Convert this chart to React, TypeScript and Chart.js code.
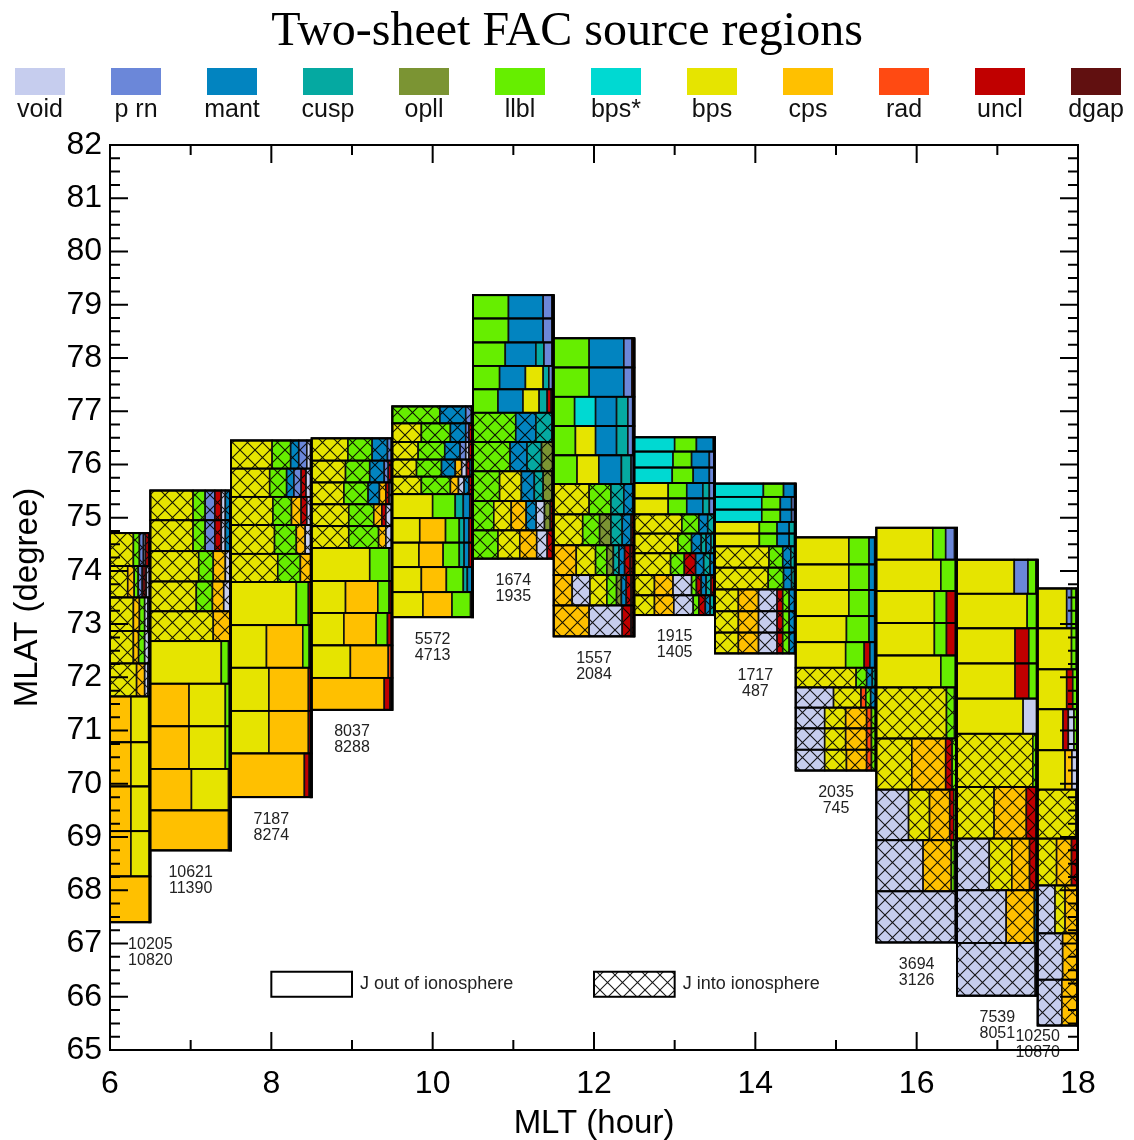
import React, { useEffect, useRef } from 'react';
import { Chart, registerables } from 'chart.js';

Chart.register(...registerables);

// ---- categories (source regions) ----
const categoryNames = ['void', 'p rn', 'mant', 'cusp', 'opll', 'llbl', 'bps*', 'bps', 'cps', 'rad', 'uncl', 'dgap'];
const categoryCodes = ['V', 'P', 'M', 'C', 'O', 'L', 'S', 'B', 'Q', 'R', 'U', 'D'];
const categoryColors = ['#c6cdee', '#6b87d9', '#0284c0', '#05a9a1', '#7b9433', '#66ee00', '#00d9d2', '#e6e400', '#ffc000', '#ff4a12', '#c00000', '#611010'];

// ---- MLT bins and event counts ----
const mltBins = [6, 7, 8, 9, 10, 11, 12, 13, 14, 15, 16, 17, 18];
const countsOut = [10205, 10621, 7187, 8037, 5572, 1674, 1557, 1915, 1717, 2035, 3694, 7539, 10250];
const countsInto = [10820, 11390, 8274, 8288, 4713, 1935, 2084, 1405, 487, 745, 3126, 8051, 10870];

// ---- axis ranges ----
const mltRange = [6, 18];
const mlatRange = [65, 82];

// row: [MLAT low, MLAT high, J into ionosphere (1) / out (0), mix of source regions in %]
type Row = [number, number, number, [string, number][]];

const mlt06: Row[] = [
  [74.09, 74.71, 1, [['B', 58], ['L', 15], ['P', 10], ['V', 5], ['U', 8], ['D', 4]]],
  [73.50, 74.09, 1, [['B', 44], ['Q', 16], ['L', 10], ['P', 10], ['D', 10], ['V', 10]]],
  [72.87, 73.50, 1, [['B', 58], ['Q', 15], ['L', 13], ['V', 8], ['P', 6]]],
  [72.26, 72.87, 1, [['B', 58], ['Q', 13], ['L', 15], ['V', 10], ['P', 4]]],
  [71.64, 72.26, 1, [['B', 66], ['Q', 20], ['V', 8], ['P', 6]]],
  [70.78, 71.64, 0, [['Q', 52], ['B', 44], ['L', 4]]],
  [69.95, 70.78, 0, [['Q', 52], ['B', 45], ['L', 3]]],
  [69.11, 69.95, 0, [['Q', 52], ['B', 46], ['L', 2]]],
  [68.26, 69.11, 0, [['Q', 52], ['B', 46], ['L', 2]]],
  [67.40, 68.26, 0, [['Q', 100]]],
];
const mlt07: Row[] = [
  [74.95, 75.51, 1, [['B', 53], ['L', 15], ['P', 12], ['U', 8], ['V', 5], ['M', 7]]],
  [74.37, 74.95, 1, [['B', 53], ['L', 15], ['P', 12], ['U', 8], ['V', 5], ['M', 7]]],
  [73.80, 74.37, 1, [['B', 60], ['L', 18], ['Q', 15], ['V', 7]]],
  [73.24, 73.80, 1, [['B', 57], ['L', 20], ['Q', 14], ['V', 9]]],
  [72.68, 73.24, 1, [['B', 78], ['Q', 22]]],
  [71.88, 72.68, 0, [['B', 88], ['L', 9], ['V', 3]]],
  [71.08, 71.88, 0, [['Q', 48], ['B', 45], ['L', 5], ['V', 2]]],
  [70.28, 71.08, 0, [['Q', 48], ['B', 45], ['L', 5], ['V', 2]]],
  [69.50, 70.28, 0, [['Q', 51], ['B', 46], ['L', 3]]],
  [68.75, 69.50, 0, [['Q', 97], ['U', 3]]],
];
const mlt08: Row[] = [
  [75.92, 76.45, 1, [['B', 51], ['L', 23], ['M', 10], ['P', 10], ['V', 6]]],
  [75.39, 75.92, 1, [['B', 48], ['L', 21], ['M', 9], ['P', 9], ['U', 6], ['V', 7]]],
  [74.86, 75.39, 1, [['B', 52], ['L', 23], ['Q', 12], ['U', 7], ['V', 6]]],
  [74.32, 74.86, 1, [['B', 54], ['L', 27], ['Q', 11], ['V', 8]]],
  [73.79, 74.32, 1, [['B', 58], ['L', 28], ['Q', 14]]],
  [72.98, 73.79, 0, [['B', 81], ['L', 15], ['U', 4]]],
  [72.18, 72.98, 0, [['B', 44], ['Q', 45], ['L', 8], ['U', 3]]],
  [71.37, 72.18, 0, [['B', 47], ['Q', 49], ['U', 4]]],
  [70.57, 71.37, 0, [['B', 47], ['Q', 49], ['U', 4]]],
  [69.75, 70.57, 0, [['Q', 91], ['U', 6], ['D', 3]]],
];
const mlt09: Row[] = [
  [76.07, 76.49, 1, [['B', 45], ['L', 30], ['M', 19], ['P', 6]]],
  [75.66, 76.07, 1, [['B', 42], ['L', 30], ['M', 18], ['P', 5], ['U', 5]]],
  [75.25, 75.66, 1, [['B', 40], ['L', 30], ['M', 14], ['Q', 8], ['U', 4], ['V', 4]]],
  [74.84, 75.25, 1, [['B', 46], ['L', 31], ['Q', 10], ['U', 5], ['V', 8]]],
  [74.43, 74.84, 1, [['B', 46], ['L', 37], ['Q', 9], ['V', 8]]],
  [73.81, 74.43, 0, [['B', 72], ['L', 24], ['V', 4]]],
  [73.21, 73.81, 0, [['B', 42], ['Q', 40], ['L', 14], ['U', 4]]],
  [72.60, 73.21, 0, [['B', 40], ['Q', 40], ['L', 14], ['U', 6]]],
  [71.99, 72.60, 0, [['B', 48], ['Q', 47], ['R', 5]]],
  [71.39, 71.99, 0, [['Q', 90], ['U', 7], ['D', 3]]],
];
const mlt10: Row[] = [
  [76.77, 77.09, 1, [['L', 59], ['M', 32], ['P', 7], ['V', 2]]],
  [76.42, 76.77, 1, [['B', 36], ['L', 36], ['M', 19], ['P', 4], ['U', 5]]],
  [76.09, 76.42, 1, [['B', 32], ['L', 33], ['M', 19], ['P', 7], ['V', 4], ['U', 5]]],
  [75.77, 76.09, 1, [['B', 30], ['L', 31], ['M', 17], ['Q', 8], ['V', 6], ['U', 4], ['M', 4]]],
  [75.44, 75.77, 1, [['B', 36], ['L', 36], ['Q', 10], ['V', 7], ['M', 6], ['U', 5]]],
  [74.99, 75.44, 0, [['B', 50], ['L', 28], ['C', 10], ['M', 8], ['U', 4]]],
  [74.53, 74.99, 0, [['B', 34], ['Q', 32], ['L', 17], ['C', 6], ['M', 6], ['U', 5]]],
  [74.07, 74.53, 0, [['B', 33], ['Q', 30], ['L', 20], ['C', 6], ['M', 6], ['U', 5]]],
  [73.60, 74.07, 0, [['B', 36], ['Q', 31], ['L', 21], ['C', 5], ['M', 7]]],
  [73.13, 73.60, 0, [['B', 38], ['Q', 36], ['L', 23], ['U', 3]]],
];
const mlt11: Row[] = [
  [78.74, 79.18, 0, [['L', 44], ['M', 43], ['P', 11], ['V', 2]]],
  [78.29, 78.74, 0, [['L', 44], ['M', 43], ['P', 11], ['V', 2]]],
  [77.85, 78.29, 0, [['L', 40], ['M', 38], ['C', 10], ['P', 10], ['U', 2]]],
  [77.41, 77.85, 0, [['L', 33], ['M', 32], ['B', 22], ['C', 7], ['P', 6]]],
  [76.97, 77.41, 0, [['L', 31], ['M', 31], ['B', 20], ['C', 10], ['U', 5], ['P', 3]]],
  [76.42, 76.97, 1, [['L', 53], ['M', 25], ['C', 20], ['P', 2]]],
  [75.87, 76.42, 1, [['L', 46], ['M', 21], ['C', 18], ['O', 14], ['U', 1]]],
  [75.31, 75.87, 1, [['L', 33], ['B', 27], ['M', 16], ['C', 11], ['O', 11], ['U', 2]]],
  [74.76, 75.31, 1, [['L', 25], ['B', 21], ['Q', 18], ['M', 12], ['V', 10], ['O', 7], ['U', 4]]],
  [74.23, 74.76, 1, [['L', 31], ['B', 27], ['Q', 21], ['V', 13], ['U', 8]]],
];
const mlt12: Row[] = [
  [77.82, 78.37, 0, [['L', 44], ['M', 43], ['P', 10], ['U', 3]]],
  [77.27, 77.82, 0, [['L', 44], ['M', 43], ['P', 10], ['U', 3]]],
  [76.72, 77.27, 0, [['L', 26], ['S', 26], ['M', 26], ['C', 14], ['P', 6], ['U', 2]]],
  [76.17, 76.72, 0, [['L', 27], ['B', 25], ['M', 26], ['C', 14], ['P', 6], ['U', 2]]],
  [75.63, 76.17, 0, [['L', 29], ['B', 27], ['M', 28], ['C', 12], ['P', 4]]],
  [75.06, 75.63, 1, [['B', 44], ['L', 27], ['C', 16], ['M', 11], ['U', 2]]],
  [74.48, 75.06, 1, [['B', 36], ['L', 21], ['O', 14], ['C', 14], ['M', 11], ['U', 4]]],
  [73.92, 74.48, 1, [['Q', 28], ['B', 24], ['L', 14], ['O', 8], ['C', 7], ['M', 7], ['U', 7], ['D', 5]]],
  [73.35, 73.92, 1, [['Q', 23], ['V', 22], ['B', 21], ['L', 12], ['O', 6], ['M', 6], ['U', 6], ['D', 4]]],
  [72.77, 73.35, 1, [['Q', 44], ['V', 41], ['U', 11], ['D', 4]]],
];
const mlt13: Row[] = [
  [76.24, 76.51, 0, [['S', 50], ['L', 27], ['M', 21], ['P', 2]]],
  [75.94, 76.24, 0, [['S', 48], ['L', 23], ['M', 22], ['P', 7]]],
  [75.65, 75.94, 0, [['S', 47], ['L', 26], ['M', 20], ['P', 7]]],
  [75.36, 75.65, 0, [['B', 42], ['L', 23], ['M', 20], ['C', 8], ['P', 7]]],
  [75.06, 75.36, 0, [['B', 42], ['L', 23], ['M', 20], ['C', 8], ['P', 7]]],
  [74.70, 75.06, 1, [['B', 59], ['L', 21], ['M', 11], ['C', 9]]],
  [74.33, 74.70, 1, [['B', 54], ['L', 17], ['M', 12], ['C', 6], ['M', 6], ['C', 5]]],
  [73.92, 74.33, 1, [['B', 45], ['L', 17], ['U', 14], ['M', 10], ['C', 8], ['M', 6]]],
  [73.54, 73.92, 1, [['B', 25], ['Q', 23], ['V', 23], ['L', 6], ['U', 6], ['M', 6], ['C', 6], ['U', 5]]],
  [73.17, 73.54, 1, [['B', 25], ['Q', 24], ['V', 24], ['L', 7], ['U', 8], ['M', 6], ['C', 6]]],
];
const mlt14: Row[] = [
  [75.39, 75.64, 0, [['S', 60], ['L', 25], ['M', 14], ['P', 1]]],
  [75.15, 75.39, 0, [['S', 58], ['L', 23], ['M', 14], ['P', 5]]],
  [74.92, 75.15, 0, [['S', 58], ['L', 23], ['M', 14], ['P', 5]]],
  [74.70, 74.92, 0, [['B', 55], ['L', 22], ['M', 15], ['C', 8]]],
  [74.46, 74.70, 0, [['B', 55], ['L', 22], ['M', 15], ['C', 8]]],
  [74.06, 74.46, 1, [['B', 67], ['L', 17], ['M', 10], ['C', 6]]],
  [73.65, 74.06, 1, [['B', 66], ['L', 19], ['M', 10], ['C', 5]]],
  [73.24, 73.65, 1, [['B', 29], ['Q', 25], ['V', 23], ['U', 7], ['L', 8], ['M', 8]]],
  [72.84, 73.24, 1, [['B', 29], ['Q', 25], ['V', 23], ['U', 7], ['L', 8], ['M', 8]]],
  [72.45, 72.84, 1, [['B', 29], ['Q', 25], ['V', 23], ['U', 7], ['L', 8], ['M', 8]]],
];
const mlt15: Row[] = [
  [74.12, 74.63, 0, [['B', 66], ['L', 25], ['M', 7], ['P', 2]]],
  [73.64, 74.12, 0, [['B', 66], ['L', 25], ['M', 7], ['P', 2]]],
  [73.15, 73.64, 0, [['B', 66], ['L', 25], ['M', 7], ['P', 2]]],
  [72.66, 73.15, 0, [['B', 63], ['L', 28], ['M', 7], ['P', 2]]],
  [72.18, 72.66, 0, [['B', 62], ['L', 23], ['U', 7], ['M', 6], ['P', 2]]],
  [71.81, 72.18, 1, [['B', 75], ['L', 13], ['M', 7], ['C', 5]]],
  [71.43, 71.81, 1, [['V', 47], ['B', 34], ['R', 6], ['L', 6], ['M', 7]]],
  [71.04, 71.43, 1, [['V', 36], ['B', 26], ['Q', 26], ['R', 6], ['L', 6]]],
  [70.64, 71.04, 1, [['V', 36], ['B', 26], ['Q', 26], ['R', 6], ['L', 6]]],
  [70.25, 70.64, 1, [['V', 36], ['B', 27], ['Q', 25], ['R', 6], ['L', 6]]],
];
const mlt16: Row[] = [
  [74.21, 74.81, 0, [['B', 70], ['L', 16], ['P', 11], ['M', 3]]],
  [73.62, 74.21, 0, [['B', 80], ['L', 18], ['M', 2]]],
  [73.02, 73.62, 0, [['B', 72], ['L', 15], ['U', 11], ['M', 2]]],
  [72.41, 73.02, 0, [['B', 72], ['L', 15], ['U', 11], ['M', 2]]],
  [71.81, 72.41, 0, [['B', 80], ['L', 18], ['M', 2]]],
  [70.85, 71.81, 1, [['B', 87], ['L', 10], ['M', 3]]],
  [69.89, 70.85, 1, [['B', 44], ['Q', 42], ['U', 8], ['L', 6]]],
  [68.94, 69.89, 1, [['V', 40], ['B', 26], ['Q', 25], ['U', 5], ['L', 4]]],
  [67.98, 68.94, 1, [['V', 58], ['Q', 35], ['L', 4], ['M', 3]]],
  [67.02, 67.98, 1, [['V', 98], ['M', 2]]],
];
const mlt17: Row[] = [
  [73.57, 74.21, 0, [['B', 71], ['P', 17], ['L', 10], ['M', 2]]],
  [72.92, 73.57, 0, [['B', 87], ['L', 12], ['M', 1]]],
  [72.26, 72.92, 0, [['B', 72], ['U', 17], ['L', 10], ['M', 1]]],
  [71.60, 72.26, 0, [['B', 72], ['U', 17], ['L', 10], ['M', 1]]],
  [70.94, 71.60, 0, [['B', 82], ['V', 17], ['M', 1]]],
  [69.94, 70.94, 1, [['B', 94], ['L', 4], ['M', 2]]],
  [68.97, 69.94, 1, [['B', 46], ['Q', 40], ['U', 12], ['M', 2]]],
  [68.00, 68.97, 1, [['V', 40], ['B', 28], ['Q', 22], ['U', 8], ['M', 2]]],
  [67.01, 68.00, 1, [['V', 61], ['Q', 35], ['M', 4]]],
  [66.02, 67.01, 1, [['V', 97], ['M', 3]]],
];
const mlt18: Row[] = [
  [72.92, 73.67, 0, [['B', 72], ['P', 12], ['L', 11], ['M', 5]]],
  [72.15, 72.92, 0, [['B', 84], ['L', 12], ['M', 4]]],
  [71.40, 72.15, 0, [['B', 72], ['U', 15], ['L', 10], ['M', 3]]],
  [70.63, 71.40, 0, [['B', 63], ['U', 13], ['V', 14], ['L', 7], ['M', 3]]],
  [69.89, 70.63, 0, [['B', 68], ['Q', 17], ['V', 12], ['M', 3]]],
  [68.97, 69.89, 1, [['B', 95], ['L', 5]]],
  [68.09, 68.97, 1, [['B', 47], ['Q', 37], ['U', 13], ['M', 3]]],
  [67.19, 68.09, 1, [['V', 43], ['B', 25], ['Q', 30], ['U', 2]]],
  [66.32, 67.19, 1, [['V', 62], ['Q', 35], ['U', 3]]],
  [65.46, 66.32, 1, [['V', 60], ['Q', 38], ['U', 2]]],
];

const columns: Row[][] = [mlt06, mlt07, mlt08, mlt09, mlt10, mlt11, mlt12, mlt13, mlt14, mlt15, mlt16, mlt17, mlt18];

// legend entries for current direction (placed in data coordinates)
const dirLegendLabels = ['J out of ionosphere', 'J into ionosphere'];
const dirLegendMlt = [8, 12];
const dirLegendLat = [66.0, 66.47];

const SANS = '"Liberation Sans", Arial, Helvetica, sans-serif';

function makeHatch(ctx: CanvasRenderingContext2D): CanvasPattern | string {
  const size = 15;
  const c = document.createElement('canvas');
  c.width = size;
  c.height = size;
  const g = c.getContext('2d');
  if (!g) return 'rgba(0,0,0,0)';
  g.strokeStyle = 'rgba(0,0,0,0.9)';
  g.lineWidth = 1.1;
  for (const dx of [-size, 0, size]) {
    g.beginPath();
    g.moveTo(dx, 0);
    g.lineTo(dx + size, size);
    g.moveTo(dx + size, 0);
    g.lineTo(dx, size);
    g.stroke();
  }
  return ctx.createPattern(c, 'repeat') || 'rgba(0,0,0,0)';
}

const mosaicPlugin = {
  id: 'mosaic',
  afterDatasetsDraw(chart: any) {
    const { ctx, chartArea } = chart;
    const xs = chart.scales.x;
    const ys = chart.scales.y;
    const hatch = makeHatch(ctx);

    ctx.save();
    ctx.beginPath();
    ctx.rect(chartArea.left, chartArea.top, chartArea.right - chartArea.left, chartArea.bottom - chartArea.top);
    ctx.clip();

    columns.forEach((rows, i) => {
      const c = mltBins[i];
      const xa = xs.getPixelForValue(Math.max(mltRange[0], c - 0.5));
      const xb = xs.getPixelForValue(Math.min(mltRange[1], c + 0.5));
      let topPx = Infinity;
      let botPx = -Infinity;
      rows.forEach(([lo, hi, into, mix]) => {
        const ya = ys.getPixelForValue(hi);
        const yb = ys.getPixelForValue(lo);
        topPx = Math.min(topPx, ya);
        botPx = Math.max(botPx, yb);
        const total = mix.reduce((s, m) => s + m[1], 0);
        let acc = 0;
        mix.forEach(([code, v]) => {
          const x0 = xa + ((xb - xa) * acc) / total;
          acc += v;
          const x1 = xa + ((xb - xa) * acc) / total;
          ctx.fillStyle = categoryColors[categoryCodes.indexOf(code)];
          ctx.fillRect(x0, ya, x1 - x0, yb - ya);
          if (into) {
            ctx.fillStyle = hatch;
            ctx.fillRect(x0, ya, x1 - x0, yb - ya);
          }
          ctx.strokeStyle = '#111';
          ctx.lineWidth = 1.6;
          ctx.strokeRect(x0, ya, x1 - x0, yb - ya);
        });
        ctx.strokeStyle = '#000';
        ctx.lineWidth = 1.8;
        ctx.strokeRect(xa, ya, xb - xa, yb - ya);
      });
      ctx.strokeStyle = '#000';
      ctx.lineWidth = 2;
      ctx.strokeRect(xa, topPx, xb - xa, botPx - topPx);
      ctx.lineWidth = 3;
      ctx.beginPath();
      ctx.moveTo(xb - 0.5, topPx);
      ctx.lineTo(xb - 0.5, botPx + 1);
      ctx.stroke();
    });
    ctx.restore();

    // count labels
    ctx.save();
    ctx.fillStyle = '#222';
    ctx.font = `16px ${SANS}`;
    ctx.textAlign = 'center';
    ctx.textBaseline = 'middle';
    columns.forEach((rows, i) => {
      const c = mltBins[i];
      const lx = xs.getPixelForValue(Math.min(17.5, Math.max(6.5, c)));
      const lowest = Math.min(...rows.map((r) => r[0]));
      const by = ys.getPixelForValue(lowest);
      const y1 = Math.min(by + 22, chartArea.bottom - 13);
      ctx.fillText(String(countsOut[i]), lx, y1);
      ctx.fillText(String(countsInto[i]), lx, y1 + 16);
    });
    ctx.restore();

    // direction legend
    ctx.save();
    dirLegendLabels.forEach((label, k) => {
      const x0 = xs.getPixelForValue(dirLegendMlt[k]);
      const x1 = xs.getPixelForValue(dirLegendMlt[k] + 1);
      const y0 = ys.getPixelForValue(dirLegendLat[1]);
      const y1 = ys.getPixelForValue(dirLegendLat[0]);
      ctx.fillStyle = '#fff';
      ctx.fillRect(x0, y0, x1 - x0, y1 - y0);
      if (k === 1) {
        ctx.fillStyle = hatch;
        ctx.fillRect(x0, y0, x1 - x0, y1 - y0);
      }
      ctx.strokeStyle = '#000';
      ctx.lineWidth = 2;
      ctx.strokeRect(x0, y0, x1 - x0, y1 - y0);
      ctx.fillStyle = '#222';
      ctx.font = `18px ${SANS}`;
      ctx.textAlign = 'left';
      ctx.textBaseline = 'middle';
      ctx.fillText(label, xs.getPixelForValue(dirLegendMlt[k] + 1.1), (y0 + y1) / 2);
    });
    ctx.restore();

    // frame and inward ticks
    ctx.save();
    ctx.strokeStyle = '#000';
    ctx.lineWidth = 2;
    ctx.strokeRect(chartArea.left, chartArea.top, chartArea.right - chartArea.left, chartArea.bottom - chartArea.top);
    for (let v = mlatRange[0]; v <= mlatRange[1] + 1e-6; v += 0.25) {
      const major = Math.abs(v - Math.round(v)) < 1e-6;
      const len = major ? 18 : 10;
      const py = ys.getPixelForValue(v);
      ctx.lineWidth = 2;
      ctx.beginPath();
      ctx.moveTo(chartArea.left, py);
      ctx.lineTo(chartArea.left + len, py);
      ctx.moveTo(chartArea.right, py);
      ctx.lineTo(chartArea.right - len, py);
      ctx.stroke();
    }
    for (let h = mltRange[0]; h <= mltRange[1]; h += 1) {
      const major = h % 2 === 0;
      const len = major ? 18 : 10;
      const px = xs.getPixelForValue(h);
      ctx.beginPath();
      ctx.moveTo(px, chartArea.bottom);
      ctx.lineTo(px, chartArea.bottom - len);
      ctx.moveTo(px, chartArea.top);
      ctx.lineTo(px, chartArea.top + len);
      ctx.stroke();
    }
    ctx.restore();
  },
};

export default function App() {
  const ref = useRef<HTMLCanvasElement>(null);

  useEffect(() => {
    if (!ref.current) return;
    const chart = new Chart(ref.current, {
      type: 'scatter',
      data: { datasets: [] },
      options: {
        responsive: false,
        animation: false,
        devicePixelRatio: 1,
        layout: { padding: { left: 0, top: 0, right: 0, bottom: 0 } },
        plugins: {
          legend: { display: false },
          tooltip: { enabled: false },
          title: {
            display: true,
            text: 'Two-sheet FAC source regions',
            color: '#000',
            font: { family: '"Liberation Serif", "Times New Roman", serif', size: 48, weight: 'normal', lineHeight: 1.2 },
            padding: { top: 4, bottom: 83.4 },
          },
        },
        scales: {
          x: {
            type: 'linear',
            min: mltRange[0],
            max: mltRange[1],
            grid: { display: false, drawTicks: false },
            border: { display: false },
            ticks: { stepSize: 2, color: '#000', padding: 15, font: { family: SANS, size: 32 } },
            title: { display: true, text: 'MLT (hour)', color: '#000', padding: { top: 0, bottom: 0 }, font: { family: SANS, size: 33, lineHeight: 1 } },
            afterFit: (s: any) => {
              s.height = 90;
            },
          },
          y: {
            type: 'linear',
            min: mlatRange[0],
            max: mlatRange[1],
            grid: { display: false, drawTicks: false },
            border: { display: false },
            ticks: { stepSize: 1, color: '#000', padding: 8, font: { family: SANS, size: 32 } },
            title: { display: true, text: 'MLAT (degree)', color: '#000', padding: { top: 8, bottom: 0 }, font: { family: SANS, size: 33 } },
            afterFit: (s: any) => {
              s.width = 110;
            },
          },
          yRight: {
            type: 'linear',
            position: 'right',
            min: mlatRange[0],
            max: mlatRange[1],
            display: true,
            grid: { display: false, drawTicks: false },
            border: { display: false },
            ticks: { display: false },
            afterFit: (s: any) => {
              s.width = 56;
            },
          },
        },
      } as any,
      plugins: [mosaicPlugin],
    });
    return () => chart.destroy();
  }, []);

  return (
    <div style={{ position: 'fixed', left: 0, top: 0, width: 1134, height: 1140, background: '#fff', overflow: 'hidden' }}>
      <canvas ref={ref} width={1134} height={1140} style={{ position: 'absolute', left: 0, top: 0, width: 1134, height: 1140 }} />
      {categoryNames.map((name, i) => (
        <div key={name} style={{ position: 'absolute', left: 40 + i * 96 - 40, top: 68, width: 80, textAlign: 'center' }}>
          <div style={{ width: 50, height: 27, margin: '0 auto', background: categoryColors[i] }} />
          <div style={{ fontFamily: SANS, fontSize: 25, lineHeight: '26px', marginTop: 0, color: '#111' }}>{name}</div>
        </div>
      ))}
    </div>
  );
}
